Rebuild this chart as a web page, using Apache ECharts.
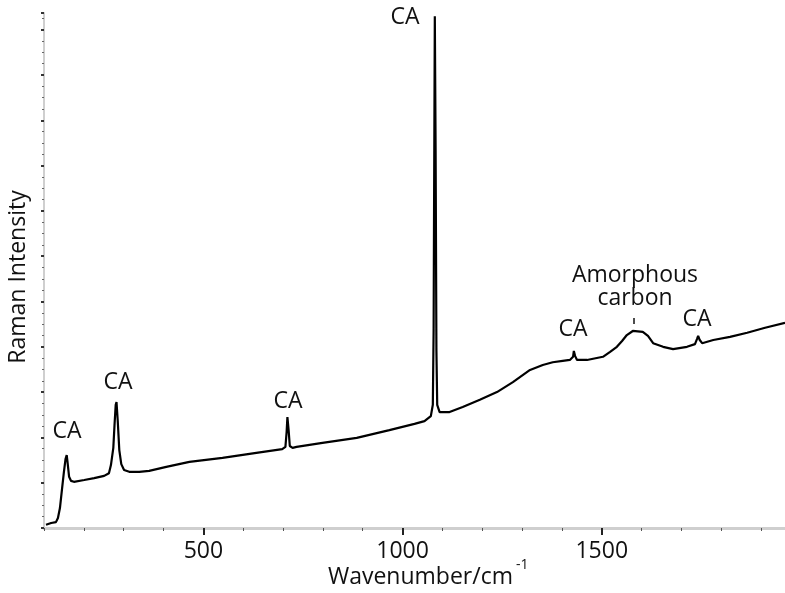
<!DOCTYPE html>
<html>
<head>
<meta charset="utf-8">
<script src="https://cdn.jsdelivr.net/npm/echarts@6/dist/echarts.min.js"></script>
<style>
html,body{margin:0;padding:0;background:#fff;}
#chart{width:785px;height:593px;}
</style>
</head>
<body>
<div id="chart"></div>
<script>
// Data
var wavenumber = [105,118,130,135,140,145,150,154,157,159,163,168,175,201,226,251,263,268,274,277,280,282,285,289,294,301,314,339,364,407,465,548,633,698,706,709,711,714,717,724,734,799,885,967,1030,1055,1071,1076,1078,1079,1081,1083,1085,1087,1093,1118,1151,1194,1237,1277,1320,1352,1377,1402,1420,1428,1430,1433,1438,1463,1503,1521,1538,1551,1563,1578,1603,1616,1629,1654,1679,1714,1734,1739,1742,1746,1752,1780,1822,1865,1910,1960];
var intensity = [0.07,0.11,0.13,0.22,0.44,0.84,1.24,1.52,1.61,1.46,1.13,1.04,1.02,1.06,1.10,1.15,1.21,1.39,1.77,2.27,2.72,2.78,2.38,1.72,1.41,1.28,1.24,1.24,1.26,1.35,1.46,1.55,1.66,1.74,1.79,2.12,2.45,2.16,1.81,1.77,1.79,1.88,1.99,2.16,2.30,2.36,2.47,2.72,4.37,6.80,11.30,8.34,3.93,2.72,2.56,2.56,2.67,2.83,3.00,3.22,3.49,3.60,3.66,3.69,3.71,3.78,3.91,3.80,3.71,3.71,3.78,3.89,4.00,4.13,4.26,4.35,4.33,4.24,4.08,4.00,3.95,4.00,4.06,4.17,4.24,4.15,4.08,4.15,4.22,4.31,4.42,4.53];
var majorTicks = [500, 1000, 1500];
var xLabel = 'Wavenumber/cm';
var xLabelSup = '-1';
var yLabel = 'Raman Intensity';
var peakLabels = ['CA', 'CA', 'CA', 'CA', 'CA', 'CA'];
var bandLabel = ['Amorphous', 'carbon'];

var FONT = '"Open Sans", "Noto Sans", sans-serif';
var points = wavenumber.map(function (w, i) { return [w, intensity[i]]; });

var chart = echarts.init(document.getElementById('chart'), null, {renderer: 'canvas'});

function txt(text, x, y, size, rot) {
  return {
    type: 'text', x: x, y: y, rotation: rot || 0, z: 10,
    style: {text: text, fill: '#111', fontSize: size, fontFamily: FONT,
            align: 'center', verticalAlign: 'middle'}
  };
}

var labelPos = [[67, 431], [118, 382], [288, 401], [405, 17], [573, 329], [697, 319]];
var graphics = labelPos.map(function (p, i) { return txt(peakLabels[i], p[0], p[1], 23); });
graphics.push(txt(bandLabel[0], 635, 275, 23));
graphics.push(txt(bandLabel[1], 635, 298, 23));
graphics.push({type: 'line', z: 10, shape: {x1: 634, y1: 318, x2: 634, y2: 324}, style: {stroke: '#111', lineWidth: 1.5}});
graphics.push({type: 'text', x: 513, y: 577, z: 10,
  style: {text: xLabel, fill: '#111', fontSize: 23, fontFamily: FONT, align: 'right', verticalAlign: 'middle'}});
graphics.push({type: 'text', x: 516, y: 565, z: 10,
  style: {text: xLabelSup, fill: '#111', fontSize: 14, fontFamily: FONT, align: 'left', verticalAlign: 'middle'}});
graphics.push(txt(yLabel, 18, 277, 23, Math.PI / 2));

chart.setOption({
  animation: false,
  backgroundColor: '#fff',
  grid: {left: 44, right: 0, top: 13, bottom: 65, containLabel: false},
  xAxis: [{
    type: 'value', min: 100, max: 1960, interval: 100, position: 'bottom',
    axisLine: {show: true, onZero: false, lineStyle: {color: '#cfcfcf', width: 3}},
    axisTick: {show: true, length: 3, lineStyle: {color: '#555', width: 1}},
    axisLabel: {show: false},
    splitLine: {show: false}
  }, {
    type: 'value', min: 100, max: 1960, position: 'bottom', offset: 0,
    axisLine: {show: false, onZero: false},
    axisTick: {show: true, length: 7, customValues: majorTicks, lineStyle: {color: '#222', width: 2}},
    axisLabel: {show: true, customValues: majorTicks, margin: 12, fontSize: 23, fontFamily: FONT, color: '#111',
                formatter: function (v) { return String(v); }},
    splitLine: {show: false}
  }],
  yAxis: {
    type: 'value', min: 0, max: 11.37, interval: 1,
    axisLine: {show: true, onZero: false, lineStyle: {color: '#cfcfcf', width: 2}},
    axisTick: {show: true, length: 3, lineStyle: {color: '#333', width: 2}},
    minorTick: {show: true, splitNumber: 4, length: 2, lineStyle: {color: '#666', width: 1}},
    axisLabel: {show: false},
    splitLine: {show: false}
  },
  series: [{
    type: 'line', xAxisIndex: 0, yAxisIndex: 0, data: points,
    showSymbol: false, symbol: 'none', smooth: false,
    lineStyle: {color: '#000', width: 2.2}, z: 5
  }],
  graphic: graphics
});
</script>
</body>
</html>
